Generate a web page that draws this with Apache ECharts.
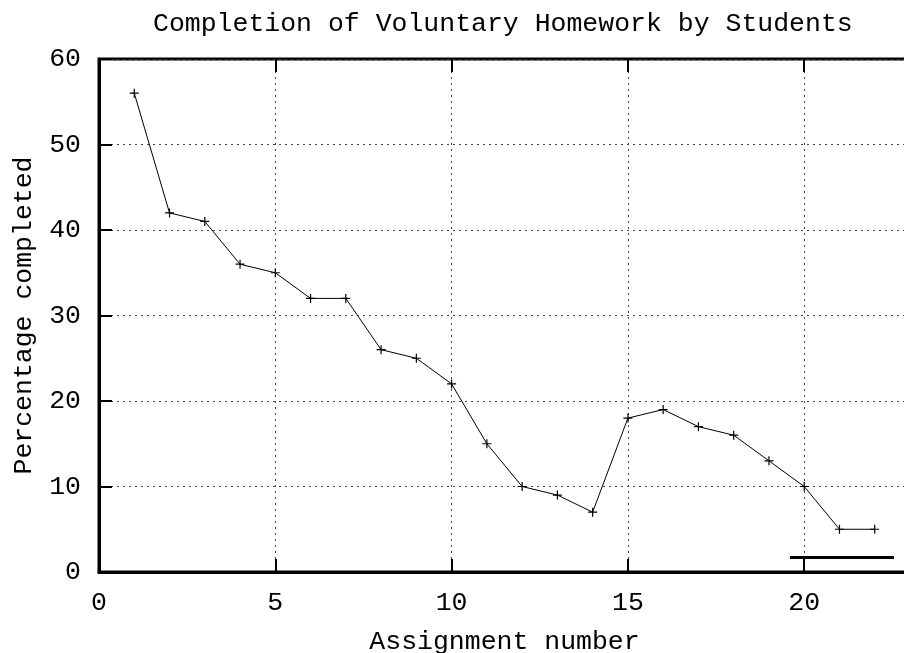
<!DOCTYPE html>
<html>
<head>
<meta charset="utf-8">
<script src="https://cdn.jsdelivr.net/npm/echarts@6/dist/echarts.min.js"></script>
<style>
  html, body { margin: 0; padding: 0; background: #fff; }
  #chart { width: 904px; height: 653px; }
</style>
</head>
<body>
<div id="chart"></div>
<script>
// Assignment numbers and share of students who handed each one in
const assignments = [1, 2, 3, 4, 5, 6, 7, 8, 9, 10, 11, 12, 13, 14, 15, 16, 17, 18, 19, 20, 21, 22];
const percentCompleted = [56, 42, 41, 36, 35, 32, 32, 26, 25, 22, 15, 10, 9, 7, 18, 19, 17, 16, 13, 10, 5, 5];

const titleText = 'Completion of Voluntary Homework by Students';
const xName = 'Assignment number';
const yName = 'Percentage completed';

const FONT = '"Liberation Mono", "Courier New", monospace';
const FS = 26.5;

const points = assignments.map((a, i) => [a, percentCompleted[i]]);

const chart = echarts.init(document.getElementById('chart'), null, { renderer: 'canvas' });

const gridLine = { show: true, lineStyle: { color: '#444', width: 1, type: [2, 4] } };

chart.setOption({
  animation: false,
  backgroundColor: '#fff',
  title: {
    text: titleText,
    left: 148,
    top: 5,
    textStyle: { fontFamily: FONT, fontSize: FS, fontWeight: 'normal', color: '#000' }
  },
  legend: {
    data: ['completed'],
    left: 790,
    top: 556,
    icon: 'rect',
    itemWidth: 104,
    itemHeight: 3,
    itemGap: 0,
    padding: 0,
    formatter: () => '',
    itemStyle: { color: '#000', borderWidth: 0 },
    textStyle: { fontSize: 1 },
    selectedMode: false
  },
  grid: {
    left: 99,
    top: 59,
    height: 513,
    width: 811,
    outerBoundsMode: 'none',
    containLabel: false,
    show: true,
    borderColor: '#000',
    borderWidth: 3,
    backgroundColor: 'transparent'
  },
  xAxis: [{
    type: 'value',
    min: 0,
    max: 23,
    interval: 5,
    name: xName,
    nameLocation: 'middle',
    nameGap: 56,
    nameTextStyle: { fontFamily: FONT, fontSize: FS, color: '#000' },
    axisLine: { show: true, lineStyle: { color: '#000', width: 3 } },
    axisTick: { show: true, inside: true, length: 13, lineStyle: { color: '#000', width: 2 } },
    axisLabel: { fontFamily: FONT, fontSize: FS, color: '#000', margin: 17, showMaxLabel: false },
    splitLine: gridLine
  }, {
    type: 'value',
    position: 'top',
    min: 0,
    max: 23,
    interval: 5,
    axisLine: { show: false },
    axisTick: { show: true, inside: true, length: 13, lineStyle: { color: '#000', width: 2 } },
    axisLabel: { show: false },
    splitLine: { show: false }
  }],
  yAxis: {
    type: 'value',
    min: 0,
    max: 60,
    interval: 10,
    name: yName,
    nameLocation: 'middle',
    nameGap: 62,
    nameRotate: 90,
    nameTextStyle: { fontFamily: FONT, fontSize: FS, color: '#000' },
    axisLine: { show: true, lineStyle: { color: '#000', width: 3 } },
    axisTick: { show: true, inside: true, length: 13, lineStyle: { color: '#000', width: 2 } },
    axisLabel: { fontFamily: FONT, fontSize: FS, color: '#000', margin: 18 },
    splitLine: gridLine
  },
  series: [{
    name: 'completed',
    type: 'line',
    data: points,
    xAxisIndex: 0,
    symbol: 'path://M0,5L10,5M5,0L5,10',
    symbolSize: 9,
    showSymbol: true,
    lineStyle: { color: '#000', width: 1 },
    itemStyle: { color: 'none', borderColor: '#000', borderWidth: 1.2 },
    emphasis: { disabled: true }
  }]
});
</script>
</body>
</html>
